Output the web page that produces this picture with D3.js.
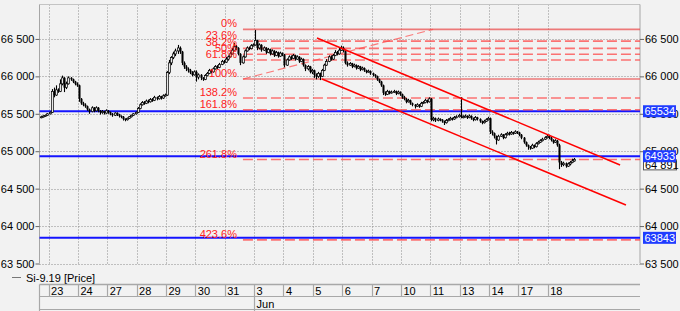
<!DOCTYPE html>
<html><head><meta charset="utf-8">
<script src="https://cdn.jsdelivr.net/npm/d3@7"></script>
<style>
html,body{margin:0;padding:0;background:#f2f2f2;}
svg{display:block;font-family:"Liberation Sans",Arial,sans-serif;}
</style>
</head><body>
<script>
// ---------- DATA ----------
const dayLabels = ["23","24","27","28","29","30","31","3","4","5","6","7","10","11","13","14","17","18"];
const monthLabel = "Jun";
const monthStartDay = 7;           // index in dayLabels where "Jun" begins
const firstDayBar = 4;             // bars of previous day visible before "23"
const barsPerDay = 14;
const seriesName = "Si-9.19 [Price]";

const open = [
 65450,65460,65470,65480,
 65500,65520,65800,65750,65820,65800,65900,65980,65850,65900,65980,65960,65930,65900,
 65880,65700,65640,65620,65600,65560,65530,65580,65540,65580,65540,65520,65530,65510,
 65540,65520,65500,65480,65510,65490,65470,65460,65430,65420,65440,65460,65480,65500,
 65520,65570,65620,65650,65640,65670,65660,65690,65680,65720,65700,65730,65710,65740,
 65750,66050,66180,66250,66300,66340,66380,66330,66180,66130,66100,66080,66050,66020,
 66060,65990,66020,65980,65960,66010,66040,66080,66060,66100,66130,66120,66160,66200,
 66190,66230,66260,66300,66350,66400,66380,66300,66180,66260,66340,66380,66370,66410,
 66420,66480,66380,66420,66350,66380,66320,66360,66300,66340,66280,66320,66270,66310,
 66290,66150,66220,66260,66240,66280,66230,66260,66200,66230,66150,66100,66130,66060,
 66080,66020,66000,66040,66000,66080,66150,66200,66260,66230,66280,66320,66300,66350,
 66380,66340,66180,66150,66170,66130,66150,66110,66130,66090,66110,66080,66060,66070,
 66040,66020,66000,65960,65930,65880,65780,65760,65800,65780,65790,65800,65770,65790,
 65760,65720,65700,65660,65680,65640,65620,65600,65620,65600,65640,65650,65680,65660,
 65700,65420,65440,65410,65430,65420,65400,65380,65410,65420,65440,65430,65450,65460,
 65480,65460,65460,65470,65450,65470,65440,65420,65450,65430,65400,65380,65400,65420,
 65440,65260,65240,65200,65150,65200,65220,65180,65220,65240,65230,65250,65240,65260,
 65250,65220,65180,65120,65080,65060,65040,65080,65060,65100,65120,65140,65160,65180,
 65200,65180,65150,65120,65140,65080,64850,64820,64840,64800,64830,64850,64870
];
const high = [
 65475,65480,65490,65510,
 65530,65830,65850,65880,65840,65960,66010,65990,65930,66000,65990,65970,65940,65920,
 65890,65710,65660,65640,65610,65570,65600,65590,65600,65590,65550,65550,65540,65560,
 65550,65530,65510,65520,65520,65500,65480,65470,65440,65450,65470,65490,65510,65530,
 65590,65640,65670,65670,65690,65690,65710,65710,65740,65730,65750,65740,65760,65770,
 66070,66220,66270,66330,66370,66420,66400,66340,66200,66150,66120,66100,66070,66080,
 66080,66040,66030,65990,66030,66060,66100,66100,66120,66150,66150,66180,66220,66220,
 66260,66280,66330,66380,66450,66420,66390,66310,66280,66360,66400,66400,66430,66440,
 66620,66490,66440,66430,66400,66390,66380,66370,66360,66350,66340,66330,66330,66320,
 66300,66240,66280,66280,66300,66290,66280,66270,66250,66240,66160,66150,66140,66100,
 66090,66040,66060,66050,66100,66170,66230,66280,66280,66300,66350,66340,66380,66410,
 66400,66350,66200,66190,66180,66170,66160,66150,66140,66130,66120,66090,66090,66080,
 66050,66030,66010,65970,65940,65890,65800,65820,65810,65810,65820,65810,65810,65800,
 65770,65740,65710,65700,65690,65650,65630,65640,65630,65660,65670,65700,65690,65720,
 65710,65460,65450,65450,65440,65430,65410,65430,65440,65460,65450,65470,65480,65500,
 65720,65480,65490,65480,65490,65480,65450,65470,65460,65440,65410,65420,65440,65460,
 65450,65280,65250,65210,65220,65240,65230,65240,65260,65260,65270,65260,65280,65270,
 65260,65230,65190,65130,65090,65070,65100,65090,65120,65140,65160,65180,65200,65230,
 65220,65190,65160,65160,65150,65100,64870,64860,64850,64850,64870,64900,64910
];
const low = [
 65440,65450,65460,65470,
 65490,65510,65720,65740,65780,65790,65880,65790,65830,65890,65940,65910,65880,65860,
 65660,65620,65600,65580,65540,65500,65520,65520,65530,65520,65490,65500,65490,65500,
 65500,65480,65460,65470,65470,65450,65440,65410,65400,65410,65430,65450,65470,65490,
 65510,65560,65610,65620,65630,65640,65650,65660,65670,65680,65690,65690,65700,65730,
 65740,66030,66150,66230,66270,66300,66300,66150,66100,66070,66050,66030,66000,66010,
 65930,65960,65950,65940,65950,66000,66030,66040,66050,66090,66100,66110,66150,66170,
 66180,66210,66250,66290,66340,66350,66280,66150,66170,66250,66330,66350,66360,66400,
 66410,66350,66360,66330,66340,66300,66310,66280,66290,66260,66270,66250,66260,66270,
 66120,66140,66210,66220,66230,66210,66220,66180,66190,66130,66070,66080,66040,66030,
 65980,65960,65980,65950,65990,66070,66140,66190,66210,66220,66270,66280,66290,66340,
 66320,66160,66130,66140,66110,66120,66090,66100,66070,66080,66060,66040,66050,66020,
 66000,65980,65940,65910,65860,65750,65740,65750,65760,65770,65780,65750,65760,65740,
 65700,65680,65640,65650,65620,65600,65570,65590,65580,65590,65630,65640,65640,65650,
 65400,65400,65390,65400,65400,65380,65350,65370,65400,65410,65410,65420,65440,65450,
 65440,65440,65450,65430,65440,65420,65400,65410,65410,65380,65360,65370,65390,65410,
 65230,65210,65170,65090,65140,65190,65160,65170,65210,65210,65220,65220,65230,65230,
 65200,65160,65100,65060,65020,65020,65030,65040,65050,65090,65110,65130,65150,65170,
 65160,65130,65100,65110,65060,64760,64790,64800,64780,64790,64810,64840,64860
];
const close = [
 65460,65470,65480,65500,
 65520,65800,65750,65820,65800,65900,65980,65850,65900,65980,65960,65930,65900,65880,
 65700,65640,65620,65600,65560,65530,65580,65540,65580,65540,65520,65530,65510,65540,
 65520,65500,65480,65510,65490,65470,65460,65430,65420,65440,65460,65480,65500,65520,
 65570,65620,65650,65640,65670,65660,65690,65680,65720,65700,65730,65710,65740,65750,
 66050,66180,66250,66300,66340,66380,66330,66180,66130,66100,66080,66050,66020,66060,
 65990,66020,65980,65960,66010,66040,66080,66060,66100,66130,66120,66160,66200,66190,
 66230,66260,66300,66350,66400,66380,66300,66180,66260,66340,66380,66370,66410,66420,
 66480,66380,66420,66350,66380,66320,66360,66300,66340,66280,66320,66270,66310,66290,
 66150,66220,66260,66240,66280,66230,66260,66200,66230,66150,66100,66130,66060,66080,
 66020,66000,66040,66000,66080,66150,66200,66260,66230,66280,66320,66300,66350,66380,
 66340,66180,66150,66170,66130,66150,66110,66130,66090,66110,66080,66060,66070,66040,
 66020,66000,65960,65930,65880,65780,65760,65800,65780,65790,65800,65770,65790,65760,
 65720,65700,65660,65680,65640,65620,65600,65620,65600,65640,65650,65680,65660,65700,
 65420,65440,65410,65430,65420,65400,65380,65410,65420,65440,65430,65450,65460,65480,
 65460,65460,65470,65450,65470,65440,65420,65450,65430,65400,65380,65400,65420,65440,
 65260,65240,65200,65150,65200,65220,65180,65220,65240,65230,65250,65240,65260,65250,
 65220,65180,65120,65080,65060,65040,65080,65060,65100,65120,65140,65160,65180,65200,
 65180,65150,65120,65140,65080,64850,64820,64840,64800,64830,64850,64870,64891
];

const yTicks = [63500, 64000, 64500, 65000, 65500, 66000, 66500];
const levelPrices = [65534, 64933, 63843];
const levelLabels = ["65534", "64933", "63843"];
const lastPrice = 64891;

const fibLabels = ["0%","23.6%","38.2%","50%","61.8%","100%","138.2%","161.8%","261.8%","423.6%"];
const fibPrices = [66628, 66471, 66374, 66296, 66218, 65964, 65710, 65553, 64889, 63815];
const fibSolid  = [true, false, false, false, false, true, false, false, false, false];
const fibAnchors = [[96.7, 65964], [187.3, 66628]];     // [bar position, price]
const channelUpper = [[132.0, 66512], [276.5, 64816]];
const channelLower = [[134.4, 65965], [279.3, 64281]];

// ---------- LAYOUT ----------
const W = 680, H = 311;
const L = 39.5, R = 640, T = 4.5, B = 263.5;
const xDomain = [-0.3, 286];

const svg = d3.select("body").append("svg").attr("width", W).attr("height", H);
svg.append("rect").attr("width", W).attr("height", H).attr("fill", "#f2f2f2");

const x = d3.scaleLinear().domain(xDomain).range([L, R]);
const y = d3.scaleLinear().domain([63500, 66960]).range([B, T]);
const fmt = v => d3.format(",")(v).replace(/,/g, " ");
const dayBar = d => firstDayBar + d * barsPerDay;
const snap = v => Math.round(v) + 0.5;

// grid
const grid = svg.append("g").attr("stroke", "#8c8c8c").attr("stroke-dasharray", "1,2").attr("stroke-width", 1);
grid.selectAll("line.h").data(yTicks).join("line")
  .attr("x1", L).attr("x2", R).attr("y1", d => snap(y(d))).attr("y2", d => snap(y(d)));
grid.selectAll("line.v").data(dayLabels).join("line")
  .attr("x1", (d, i) => snap(x(dayBar(i)))).attr("x2", (d, i) => snap(x(dayBar(i))))
  .attr("y1", T).attr("y2", B);

// frame
const frame = svg.append("g").attr("stroke", "#a6a6a6").attr("fill", "none");
frame.append("line").attr("x1", L).attr("x2", R).attr("y1", T).attr("y2", T).attr("stroke", "#c4c4c4");
frame.append("line").attr("x1", L).attr("x2", L).attr("y1", T).attr("y2", B);
frame.append("line").attr("x1", R).attr("x2", R).attr("y1", T).attr("y2", B);

// axes
const axL = svg.append("g").attr("transform", `translate(${L},0)`)
  .call(d3.axisLeft(y).tickValues(yTicks).tickFormat(fmt).tickSize(4).tickPadding(1));
const axR = svg.append("g").attr("transform", `translate(${R},0)`)
  .call(d3.axisRight(y).tickValues(yTicks).tickFormat(fmt).tickSize(4).tickPadding(1));
[axL, axR].forEach(a => {
  a.select(".domain").remove();
  a.selectAll("line").attr("stroke", "#666");
  a.selectAll("text").attr("font-size", 11).attr("fill", "#000")
    .attr("font-family", '"Liberation Sans", Arial, sans-serif');
});

// blue horizontal levels
svg.append("g").selectAll("line").data(levelPrices).join("line")
  .attr("x1", L).attr("x2", R).attr("y1", d => y(d)).attr("y2", d => y(d))
  .attr("stroke", "#1414ff").attr("stroke-width", 2);

// fib levels
const fibX0 = x(fibAnchors[0][0]);
const fib = svg.append("g");
fib.selectAll("line").data(fibPrices).join("line")
  .attr("x1", fibX0).attr("x2", R).attr("y1", d => y(d)).attr("y2", d => y(d))
  .attr("stroke", (d, i) => fibSolid[i] ? "rgba(235,80,80,0.75)" : "rgba(255,60,60,0.7)")
  .attr("stroke-width", 1.6)
  .attr("stroke-dasharray", (d, i) => fibSolid[i] ? null : "10,4");
fib.append("line")
  .attr("x1", x(fibAnchors[0][0])).attr("y1", y(fibAnchors[0][1]))
  .attr("x2", x(fibAnchors[1][0])).attr("y2", y(fibAnchors[1][1]))
  .attr("stroke", "rgba(255,70,70,0.7)").attr("stroke-width", 1.2).attr("stroke-dasharray", "8,4");

// candles
const candles = close.map((c, i) => ({ i, o: open[i], h: high[i], l: low[i], c }));
const cg = svg.append("g");
cg.selectAll("line").data(candles).join("line")
  .attr("x1", d => snap(x(d.i + 0.5))).attr("x2", d => snap(x(d.i + 0.5)))
  .attr("y1", d => y(d.h)).attr("y2", d => y(d.l))
  .attr("stroke", "#000").attr("stroke-width", 1.1);
cg.selectAll("rect").data(candles).join("rect")
  .attr("x", d => Math.round(x(d.i + 0.5)) - 0.5)
  .attr("width", 2)
  .attr("y", d => y(Math.max(d.o, d.c)))
  .attr("height", d => Math.max(1, Math.abs(y(d.o) - y(d.c))))
  .attr("fill", d => d.c < d.o ? "#000" : "#e8e8e8")
  .attr("stroke", "#000").attr("stroke-width", d => d.c < d.o ? 0 : 0.7);

// channel lines
const lineGen = d3.line().x(d => x(d[0])).y(d => y(d[1]));
svg.append("g").selectAll("path").data([channelUpper, channelLower]).join("path")
  .attr("d", lineGen).attr("fill", "none").attr("stroke", "#ff0000").attr("stroke-width", 1.5);

// fib labels
svg.append("g").selectAll("text").data(fibLabels).join("text")
  .attr("x", fibX0 - 6).attr("y", (d, i) => y(fibPrices[i]) - 2)
  .attr("text-anchor", "end").attr("font-size", 11).attr("fill", "#ff2222")
  .text(d => d);

// last price box
const lp = svg.append("g");
lp.append("rect").attr("x", 643.5).attr("y", y(lastPrice) + 0.5).attr("width", 33).attr("height", 10)
  .attr("fill", "#fff").attr("stroke", "#555");
lp.append("text").attr("x", 645).attr("y", y(lastPrice) + 9.5).attr("font-size", 11).attr("fill", "#000")
  .text(fmt(lastPrice));

// blue level boxes
const lb = svg.append("g").selectAll("g").data(levelPrices).join("g");
lb.append("rect").attr("x", 643).attr("y", d => y(d) - 6).attr("width", 33).attr("height", 12)
  .attr("fill", "#1f3cff");
lb.append("text").attr("x", 644.5).attr("y", d => y(d) + 4).attr("font-size", 11).attr("fill", "#fff")
  .text((d, i) => levelLabels[i]);

// legend
svg.append("line").attr("x1", 12).attr("x2", 21).attr("y1", 277.5).attr("y2", 277.5).attr("stroke", "#777");
svg.append("text").attr("x", 26).attr("y", 281.5).attr("font-size", 11).attr("fill", "#000").text(seriesName);

// date axis
const xa = svg.append("g").attr("stroke", "#a8a8a8").attr("stroke-width", 1.2);
xa.append("line").attr("x1", L).attr("x2", R).attr("y1", 284.5).attr("y2", 284.5).attr("stroke-width", 1.6);
xa.append("line").attr("x1", L).attr("x2", R).attr("y1", 296.5).attr("y2", 296.5);
xa.append("line").attr("x1", L).attr("x2", R).attr("y1", 309.5).attr("y2", 309.5);
xa.append("line").attr("x1", L).attr("x2", L).attr("y1", 284.5).attr("y2", 311);
xa.selectAll("line.d").data(dayLabels).join("line")
  .attr("x1", (d, i) => snap(x(dayBar(i)))).attr("x2", (d, i) => snap(x(dayBar(i))))
  .attr("y1", 284.5).attr("y2", 296.5);
xa.append("line").attr("x1", snap(x(dayBar(monthStartDay)))).attr("x2", snap(x(dayBar(monthStartDay))))
  .attr("y1", 296.5).attr("y2", 311);
svg.append("g").selectAll("text").data(dayLabels).join("text")
  .attr("x", (d, i) => x(dayBar(i)) + 2.5).attr("y", 294.5)
  .attr("font-size", 11).attr("fill", "#000").text(d => d);
svg.append("text").attr("x", x(dayBar(monthStartDay)) + 2.5).attr("y", 307.5)
  .attr("font-size", 11).attr("fill", "#000").text(monthLabel);
</script>
</body></html>
